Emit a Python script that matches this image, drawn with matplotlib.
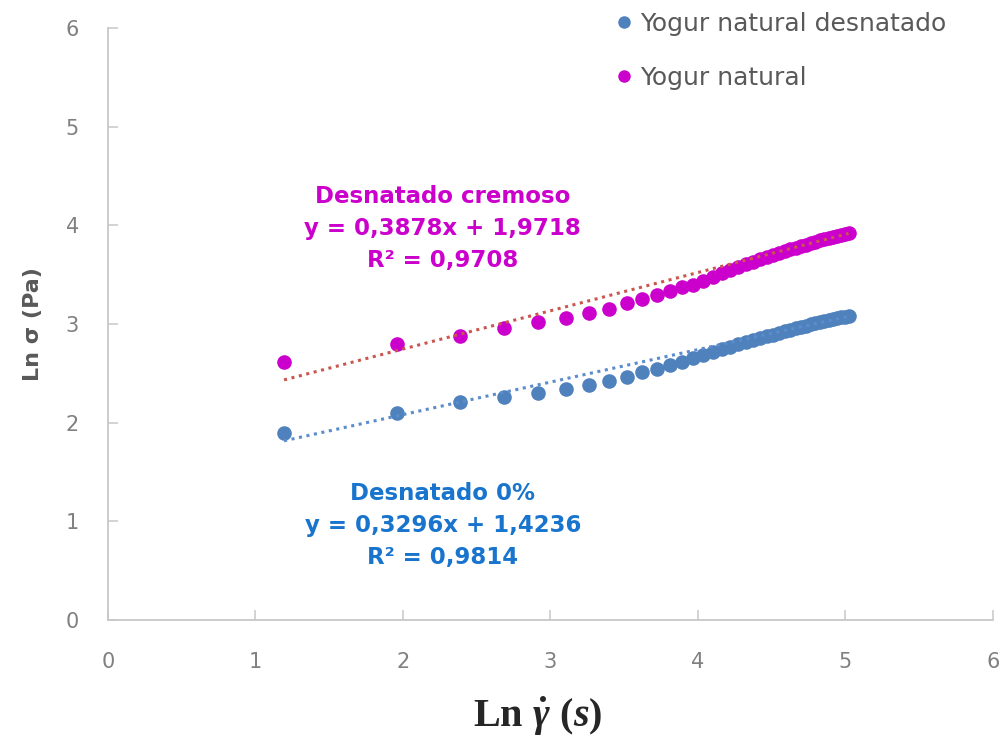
import matplotlib
matplotlib.use("Agg")
import matplotlib.pyplot as plt
from matplotlib.lines import Line2D

# Log of shear rate, shared by both yogurt series
ln_shear = [1.194, 1.960, 2.389, 2.688, 2.918, 3.105, 3.262, 3.398, 3.517, 3.624,
            3.721, 3.809, 3.890, 3.965, 4.034, 4.099, 4.160, 4.218, 4.272, 4.324,
            4.373, 4.420, 4.465, 4.508, 4.549, 4.588, 4.626, 4.663, 4.698, 4.732,
            4.765, 4.797, 4.828, 4.858, 4.887, 4.915, 4.942, 4.969, 4.995, 5.021]

# Log of shear stress, skimmed yogurt
ln_stress_skim = [1.90, 2.10, 2.21, 2.26, 2.30, 2.34, 2.38, 2.42, 2.46, 2.51,
                  2.55, 2.59, 2.62, 2.66, 2.69, 2.72, 2.75, 2.77, 2.80, 2.82,
                  2.84, 2.86, 2.88, 2.89, 2.91, 2.93, 2.94, 2.96, 2.97, 2.98,
                  3.00, 3.01, 3.02, 3.03, 3.04, 3.05, 3.06, 3.07, 3.07, 3.08]

# Log of shear stress, natural yogurt
ln_stress_nat = [2.62, 2.80, 2.88, 2.96, 3.02, 3.06, 3.11, 3.15, 3.21, 3.25,
                 3.30, 3.34, 3.38, 3.40, 3.44, 3.48, 3.52, 3.55, 3.58, 3.61,
                 3.63, 3.66, 3.68, 3.70, 3.72, 3.74, 3.76, 3.77, 3.79, 3.80,
                 3.82, 3.83, 3.85, 3.86, 3.87, 3.88, 3.89, 3.90, 3.91, 3.92]

series_labels = ["Yogur natural desnatado", "Yogur natural"]

# Linear fits (slope, intercept, R²)
fit_skim = (0.3296, 1.4236, 0.9814)
fit_nat = (0.3878, 1.9718, 0.9708)

ticks = [0, 1, 2, 3, 4, 5, 6]

BLUE = "#4f81bd"
MAGENTA = "#cc00cc"
RED_TREND = "#c9574f"
BLUE_TREND = "#5b8ccc"
BLUE_TEXT = "#1874cd"
GRAY = "#808080"
AXIS_GRAY = "#c8c8c8"

plt.rcParams["font.family"] = ["DejaVu Sans"]
plt.rcParams["mathtext.fontset"] = "custom"
plt.rcParams["mathtext.rm"] = "Liberation Serif:bold"
plt.rcParams["mathtext.it"] = "Liberation Serif:italic:bold"

fig = plt.figure(figsize=(10.07, 7.40), dpi=100)
ax = fig.add_axes([0.1072, 0.162, 0.8788, 0.800])

ax.plot(ln_shear, ln_stress_skim, "o", color=BLUE, markersize=10.5,
        markeredgewidth=0, zorder=3)
ax.plot(ln_shear, ln_stress_nat, "o", color=MAGENTA, markersize=10.5,
        markeredgewidth=0, zorder=3)

# Trend lines from the fitted equations
x0, x1 = ln_shear[0], ln_shear[-1]
for (m, b, _), col in ((fit_skim, BLUE_TREND), (fit_nat, RED_TREND)):
    ax.plot([x0, x1], [m * x0 + b, m * x1 + b], color=col, linewidth=2.2,
            linestyle=(0, (1, 1.5)), dash_capstyle="butt", zorder=4)

ax.set_xlim(0, 6)
ax.set_ylim(0, 6)
ax.set_xticks(ticks)
ax.set_yticks(ticks)
ax.set_xticklabels([str(t) for t in ticks])
ax.set_yticklabels([str(t) for t in ticks])

for side in ("top", "right"):
    ax.spines[side].set_visible(False)
for side in ("left", "bottom"):
    ax.spines[side].set_color(AXIS_GRAY)
    ax.spines[side].set_linewidth(1.3)

ax.tick_params(axis="both", direction="in", length=7, width=1.1,
               color=AXIS_GRAY, labelcolor=GRAY, labelsize=15)
ax.tick_params(axis="x", pad=23)
ax.tick_params(axis="y", pad=21)

ax.set_ylabel("Ln σ (Pa)", fontsize=16, fontweight="bold", color="#595959",
              labelpad=16)
fig.text(0.534, 0.018, r"$\mathrm{Ln}\ \dot{\gamma}\ (s)$", fontsize=29,
         color="#262626", ha="center", va="baseline")

def fit_text(name, fit):
    m, b, r2 = fit
    fmt = lambda v, n: f"{v:.{n}f}".replace(".", ",")
    return f"{name}\ny = {fmt(m, 4)}x + {fmt(b, 4)}\nR² = {fmt(r2, 4)}"

ax.text(2.27, 3.97, fit_text("Desnatado cremoso", fit_nat), color=MAGENTA,
        fontsize=16.5, fontweight="bold", ha="center", va="center",
        linespacing=1.5)
ax.text(2.27, 0.96, fit_text("Desnatado 0%", fit_skim), color=BLUE_TEXT,
        fontsize=16.5, fontweight="bold", ha="center", va="center",
        linespacing=1.5)

handles = [Line2D([], [], marker="o", linestyle="none", color=c,
                  markersize=9, markeredgewidth=0) for c in (BLUE, MAGENTA)]
ax.legend(handles, series_labels, loc="upper left",
          bbox_to_anchor=(0.597, 0.997), bbox_transform=fig.transFigure,
          frameon=False, fontsize=18, labelcolor="#595959",
          handletextpad=0.15, handlelength=1.0, labelspacing=1.2,
          borderaxespad=0)

fig.savefig("out.png", dpi=100)
